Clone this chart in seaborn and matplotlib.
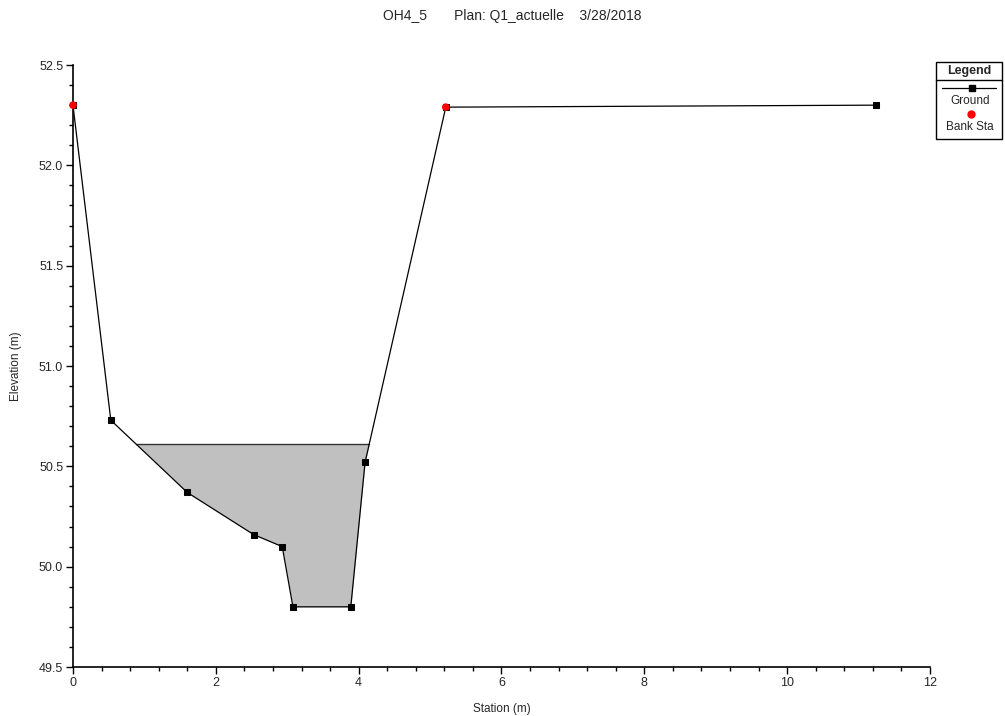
import numpy as np
import pandas as pd
import matplotlib
matplotlib.use("Agg")
import matplotlib.pyplot as plt
from matplotlib.ticker import MultipleLocator
from matplotlib.patches import Rectangle
from matplotlib.lines import Line2D
import seaborn as sns

# Data
station = [0.0, 0.53, 1.60, 2.53, 2.93, 3.08, 3.89, 4.09, 5.22, 11.25]
elevation = [52.30, 50.73, 50.37, 50.16, 50.10, 49.80, 49.80, 50.52, 52.29, 52.30]
bank_station = [0.0, 5.22]
bank_elev = [52.30, 52.29]
water_surface = 50.61
title = "OH4_5       Plan: Q1_actuelle    3/28/2018"

sns.set_style("ticks")
plt.rcParams['font.family'] = ['Liberation Sans', 'DejaVu Sans']

fig = plt.figure(figsize=(10.05, 7.16), dpi=100)
ax = fig.add_axes([0.0726, 0.0684, 0.8528, 0.8408])

x = np.array(station)
y = np.array(elevation)

# water fill between ground and water surface
xf = np.linspace(x.min(), x.max(), 4000)
xf = np.unique(np.concatenate([xf, x]))
yf = np.interp(xf, x, y)
ax.fill_between(xf, yf, water_surface, where=yf < water_surface,
                interpolate=True, color="#c0c0c0", linewidth=0, zorder=1)
below = yf < water_surface
idx = np.where(below)[0]
i0, i1 = idx[0], idx[-1]
def cross(a, b):
    xa, xb, ya, yb = xf[a], xf[b], yf[a], yf[b]
    return xa + (water_surface - ya) * (xb - xa) / (yb - ya)
xl = cross(i0 - 1, i0)
xr = cross(i1, i1 + 1)
ax.plot([xl, xr], [water_surface, water_surface], color="#333333", lw=1.0, zorder=2)

df = pd.DataFrame({"Station": station, "Elevation": elevation})
sns.lineplot(data=df, x="Station", y="Elevation", sort=False, ax=ax,
             color="black", lw=0.9, marker="s", markersize=5,
             markeredgecolor="black", markerfacecolor="black", zorder=3)
bdf = pd.DataFrame({"Station": bank_station, "Elevation": bank_elev})
sns.scatterplot(data=bdf, x="Station", y="Elevation", ax=ax, color="red",
                marker="o", s=30, edgecolor="none", zorder=4, clip_on=False)

ax.set_xlim(0, 12)
ax.set_ylim(49.5, 52.5)
ax.xaxis.set_major_locator(MultipleLocator(2))
ax.xaxis.set_minor_locator(MultipleLocator(0.4))
ax.yaxis.set_major_locator(MultipleLocator(0.5))
ax.yaxis.set_minor_locator(MultipleLocator(0.1))
ax.yaxis.set_major_formatter(matplotlib.ticker.FormatStrFormatter('%.1f'))
ax.tick_params(which="major", length=5, width=1, labelsize=9, color="black", pad=2)
ax.tick_params(which="minor", length=3, width=1, color="black")
for s in ["top", "right"]:
    ax.spines[s].set_visible(False)
for s in ["left", "bottom"]:
    ax.spines[s].set_color("black")
    ax.spines[s].set_linewidth(1.2)
ax.set_xlabel("Station (m)", fontsize=8.5, labelpad=10)
ax.set_ylabel("Elevation (m)", fontsize=8.5, labelpad=12)
ax.grid(False)

fig.text(0.51, 0.977, title, ha="center", va="center", fontsize=10)

# Legend box (figure coords)
W, H = 1005, 716
def fx(px): return px / W
def fy(py): return 1 - py / H
fig.patches.append(Rectangle((fx(936), fy(139)), fx(66), 77 / H, transform=fig.transFigure,
                             fill=False, edgecolor="black", lw=1.0))
fig.text(fx(969), fy(71), "Legend", ha="center", va="center", fontsize=9, fontweight="bold")
fig.lines.append(Line2D([fx(936), fx(1002)], [fy(80), fy(80)], transform=fig.transFigure,
                        color="black", lw=1.0))
fig.lines.append(Line2D([fx(942), fx(996)], [fy(88), fy(88)], transform=fig.transFigure,
                        color="black", lw=0.9))
fig.lines.append(Line2D([fx(972)], [fy(88)], transform=fig.transFigure, color="black",
                        marker="s", markersize=5, lw=0))
fig.text(fx(970), fy(101), "Ground", ha="center", va="center", fontsize=8.5)
fig.lines.append(Line2D([fx(971)], [fy(114)], transform=fig.transFigure, color="red",
                        marker="o", markersize=5, lw=0))
fig.text(fx(970), fy(127), "Bank Sta", ha="center", va="center", fontsize=8.5)

fig.savefig("out.png", dpi=100, facecolor="white")
